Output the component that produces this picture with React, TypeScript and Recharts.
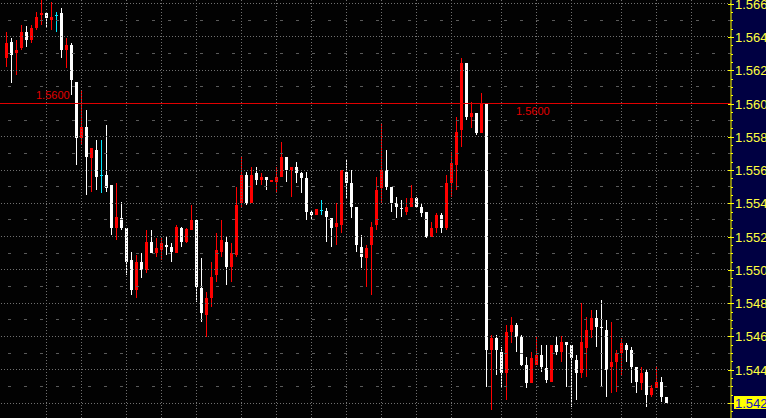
import React from 'react';
import { ComposedChart, Bar, XAxis, YAxis, ReferenceLine, ReferenceDot } from 'recharts';

const opens = [
  1.56275, 1.56370, 1.56302, 1.56335, 1.56430, 1.56382, 1.56454, 1.56530, 1.56546, 1.56502,
  1.56530, 1.56546, 1.56322, 1.56353, 1.56131, 1.55794, 1.55861, 1.55674, 1.55721, 1.55570,
  1.55572, 1.55510, 1.55254, 1.55310, 1.55252, 1.55059, 1.54879, 1.55049, 1.54999, 1.55169,
  1.55103, 1.55120, 1.55150, 1.55139, 1.55103, 1.55254, 1.55169, 1.55240, 1.55300, 1.54889,
  1.54729, 1.54833, 1.54969, 1.55109, 1.55169, 1.55019, 1.55089, 1.55400, 1.55570, 1.55400,
  1.55580, 1.55540, 1.55560, 1.55530, 1.55530, 1.55556, 1.55680, 1.55600, 1.55620, 1.55584,
  1.55554, 1.55350, 1.55330, 1.55360, 1.55356, 1.55310, 1.55260, 1.55270, 1.55590, 1.55520,
  1.55380, 1.55139, 1.55070, 1.55150, 1.55270, 1.55490, 1.55600, 1.55500, 1.55404, 1.55374,
  1.55350, 1.55380, 1.55430, 1.55380, 1.55346, 1.55199, 1.55250, 1.55330, 1.55250, 1.55520,
  1.55630, 1.55841, 1.56242, 1.55917, 1.55945, 1.55821, 1.56001, 1.54519, 1.54589, 1.54508,
  1.54382, 1.54629, 1.54669, 1.54598, 1.54428, 1.54318, 1.54428, 1.54488, 1.54409, 1.54328,
  1.54549, 1.54508, 1.54565, 1.54549, 1.54458, 1.54382, 1.54532, 1.54639, 1.54713, 1.54659,
  1.54639, 1.54415, 1.54448, 1.54502, 1.54549, 1.54519, 1.54418, 1.54322, 1.54388, 1.54248,
  1.54292, 1.54328, 1.54238,
];

const highs = [
  1.56430, 1.56395, 1.56382, 1.56472, 1.56464, 1.56472, 1.56550, 1.56622, 1.56546, 1.56610,
  1.56550, 1.56572, 1.56395, 1.56365, 1.56131, 1.56081, 1.55961, 1.55733, 1.55781, 1.55781,
  1.55871, 1.55510, 1.55524, 1.55410, 1.55252, 1.55108, 1.55089, 1.55103, 1.55240, 1.55240,
  1.55190, 1.55196, 1.55199, 1.55163, 1.55270, 1.55260, 1.55254, 1.55390, 1.55300, 1.55070,
  1.54869, 1.55049, 1.55220, 1.55300, 1.55199, 1.55160, 1.55500, 1.55680, 1.55590, 1.55620,
  1.55620, 1.55580, 1.55560, 1.55540, 1.55620, 1.55770, 1.55680, 1.55620, 1.55650, 1.55590,
  1.55590, 1.55360, 1.55364, 1.55420, 1.55370, 1.55310, 1.55400, 1.55600, 1.55660, 1.55600,
  1.55380, 1.55210, 1.55150, 1.55290, 1.55560, 1.55881, 1.55721, 1.55500, 1.55440, 1.55420,
  1.55430, 1.55510, 1.55440, 1.55394, 1.55346, 1.55290, 1.55344, 1.55344, 1.55570, 1.55710,
  1.55921, 1.56272, 1.56242, 1.56011, 1.55945, 1.56061, 1.56001, 1.54609, 1.54609, 1.54538,
  1.54669, 1.54719, 1.54683, 1.54609, 1.54478, 1.54508, 1.54595, 1.54549, 1.54549, 1.54549,
  1.54598, 1.54604, 1.54565, 1.54549, 1.54488, 1.54799, 1.54719, 1.54759, 1.54759, 1.54819,
  1.54699, 1.54689, 1.54519, 1.54589, 1.54562, 1.54538, 1.54418, 1.54418, 1.54398, 1.54308,
  1.54418, 1.54358, 1.54238,
];

const lows = [
  1.56221, 1.56125, 1.56171, 1.56322, 1.56341, 1.56365, 1.56442, 1.56472, 1.56454, 1.56442,
  1.56430, 1.56275, 1.56215, 1.56051, 1.55630, 1.55751, 1.55450, 1.55470, 1.55480, 1.55464,
  1.55470, 1.55210, 1.55180, 1.55240, 1.54969, 1.54849, 1.54833, 1.54949, 1.54980, 1.55100,
  1.55079, 1.55059, 1.55089, 1.55049, 1.55100, 1.55139, 1.55163, 1.55240, 1.54809, 1.54689,
  1.54598, 1.54779, 1.54929, 1.55079, 1.54909, 1.54929, 1.55079, 1.55380, 1.55390, 1.55400,
  1.55510, 1.55510, 1.55480, 1.55530, 1.55470, 1.55556, 1.55530, 1.55440, 1.55524, 1.55460,
  1.55300, 1.55300, 1.55330, 1.55330, 1.55169, 1.55139, 1.55150, 1.55224, 1.55430, 1.55310,
  1.55109, 1.55010, 1.54899, 1.54849, 1.55240, 1.55400, 1.55480, 1.55350, 1.55310, 1.55320,
  1.55330, 1.55380, 1.55370, 1.55320, 1.55193, 1.55199, 1.55224, 1.55224, 1.55240, 1.55440,
  1.55480, 1.55740, 1.55901, 1.55851, 1.55811, 1.55821, 1.54298, 1.54158, 1.54368, 1.54298,
  1.54218, 1.54562, 1.54508, 1.54422, 1.54288, 1.54318, 1.54428, 1.54388, 1.54318, 1.54328,
  1.54488, 1.54448, 1.54298, 1.54178, 1.54218, 1.54348, 1.54358, 1.54589, 1.54538, 1.54298,
  1.54238, 1.54258, 1.54268, 1.54368, 1.54448, 1.54322, 1.54258, 1.54278, 1.54178, 1.54238,
  1.54288, 1.54208, 1.54198,
];

const closes = [
  1.56365, 1.56291, 1.56323, 1.56430, 1.56382, 1.56454, 1.56520, 1.56546, 1.56516, 1.56520,
  1.56530, 1.56322, 1.56353, 1.56141, 1.55794, 1.55861, 1.55680, 1.55733, 1.55560, 1.55570,
  1.55494, 1.55254, 1.55320, 1.55254, 1.55049, 1.54879, 1.55049, 1.54999, 1.55169, 1.55103,
  1.55133, 1.55163, 1.55139, 1.55109, 1.55260, 1.55169, 1.55244, 1.55300, 1.54899, 1.54739,
  1.54833, 1.54959, 1.55120, 1.55180, 1.55019, 1.55100, 1.55390, 1.55570, 1.55400, 1.55570,
  1.55540, 1.55560, 1.55540, 1.55540, 1.55560, 1.55680, 1.55600, 1.55620, 1.55584, 1.55554,
  1.55350, 1.55330, 1.55364, 1.55360, 1.55316, 1.55250, 1.55284, 1.55600, 1.55520, 1.55380,
  1.55150, 1.55079, 1.55130, 1.55260, 1.55480, 1.55600, 1.55500, 1.55400, 1.55380, 1.55364,
  1.55380, 1.55430, 1.55380, 1.55344, 1.55199, 1.55250, 1.55330, 1.55250, 1.55520, 1.55641,
  1.55831, 1.56242, 1.55921, 1.55945, 1.55821, 1.56001, 1.54519, 1.54589, 1.54519, 1.54382,
  1.54629, 1.54669, 1.54598, 1.54428, 1.54318, 1.54469, 1.54488, 1.54418, 1.54338, 1.54549,
  1.54508, 1.54565, 1.54549, 1.54469, 1.54382, 1.54568, 1.54639, 1.54713, 1.54659, 1.54655,
  1.54398, 1.54448, 1.54502, 1.54562, 1.54519, 1.54418, 1.54328, 1.54382, 1.54248, 1.54292,
  1.54328, 1.54238, 1.54202,
];

// price axis labels and grid levels
const priceTicks = [1.542, 1.544, 1.546, 1.548, 1.550, 1.552, 1.554, 1.556, 1.558, 1.560, 1.562, 1.564, 1.566];
const midLevels = [1.543, 1.545, 1.547, 1.549, 1.551, 1.553, 1.555, 1.557, 1.559, 1.561, 1.563, 1.565];
const minorTicks = [
  1.5415, 1.5425, 1.543, 1.5435, 1.5445, 1.545, 1.5455, 1.5465, 1.547, 1.5475, 1.5485, 1.549, 1.5495,
  1.5505, 1.551, 1.5515, 1.5525, 1.553, 1.5535, 1.5545, 1.555, 1.5555, 1.5565, 1.557, 1.5575,
  1.5585, 1.559, 1.5595, 1.5605, 1.561, 1.5615, 1.5625, 1.563, 1.5635, 1.5645, 1.565, 1.5655,
];
// time grid (candle slot index of each vertical grid line)
const timeGridSlots = [8, 15, 24, 31, 38, 47, 54, 61, 68, 75, 82, 89, 99, 106, 113, 123, 130, 137];
const totalSlots = 145;
// horizontal marker level and candles where its labels sit
const markerLevel = 1.56;
const markerLabelSlots = [6, 102];

const W = 766;
const H = 418;
const AXIS_W = 35;
const TICK_SIZE = 3;
const TICK_MARGIN = 1;
const FONT = '"Liberation Sans", Arial, Helvetica, sans-serif';
const lastClose = closes[closes.length - 1];

const data = Array.from({ length: totalSlots }, (_, i) =>
  i < opens.length
    ? { i, o: opens[i], h: highs[i], l: lows[i], c: closes[i] }
    : { i, o: null, h: null, l: null, c: null }
);

const allTicks = [...priceTicks, ...minorTicks].sort((a, b) => a - b);
const isMajor = (v: number) => priceTicks.some((t) => Math.abs(t - v) < 1e-7);

const Candle = (props: any) => {
  const { x, y, width, height, payload } = props;
  if (!payload || payload.h == null) return null;
  const { o, h, l, c } = payload;
  const yTop = Math.min(y, y + height);
  const hh = Math.abs(height);
  const range = h - l;
  const px = (v: number) => yTop + (range === 0 ? 0 : ((h - v) / range) * hh);
  const cx = Math.floor(x + width / 2);
  const color = c > o ? '#ff0000' : c < o ? '#ffffff' : '#00e8ff';
  const wTop = Math.round(yTop);
  const wBot = Math.round(yTop + hh);
  const bTop = Math.round(px(Math.max(o, c)));
  const bBot = Math.round(px(Math.min(o, c)));
  return (
    <g shapeRendering="crispEdges">
      <rect x={cx} y={wTop} width={1} height={Math.max(1, wBot - wTop)} fill={color} />
      <rect x={cx - 1} y={bTop} width={3} height={Math.max(1, bBot - bTop)} fill={color} />
    </g>
  );
};

const PriceTick = (props: any) => {
  const { x, y, payload } = props;
  const v = payload.value;
  const axisX = x - TICK_SIZE - TICK_MARGIN;
  const yy = Math.round(y) + 0.5;
  const major = isMajor(v);
  const highlight = major && Math.abs(v - lastClose) < 0.0001;
  return (
    <g>
      <line x1={major ? axisX - 3 : axisX} x2={axisX + (major ? 3 : 2)} y1={yy} y2={yy} stroke="#ffff00" strokeWidth={1} />
      {major && highlight && (
        <rect x={axisX + 3} y={Math.round(y) - 7} width={AXIS_W - 3} height={13} fill="#ffff00" />
      )}
      {major && (
        <text
          x={x}
          y={y + 5}
          fill={highlight ? '#1010c0' : '#ffff40'}
          fontSize={13}
          fontFamily={FONT}
          textAnchor="start"
        >
          {v.toFixed(4)}
        </text>
      )}
    </g>
  );
};

const MarkerLabel = (above: boolean) => (props: any) => {
  const vb = props.viewBox || {};
  const lx = vb.x + (vb.width || 0) / 2 - 0.5;
  const ly = vb.y + (vb.height || 0) / 2;
  return (
    <text x={lx} y={above ? ly - 5 : ly + 11} fill="#e00000" fontSize={11} fontFamily={FONT} textAnchor="start">
      {markerLevel.toFixed(4)}
    </text>
  );
};

export default function App() {
  return (
    <div style={{ position: 'absolute', left: 0, top: 0, width: W, height: H, background: '#020202', overflow: 'hidden' }}>
      <div style={{ position: 'absolute', left: W - AXIS_W, top: 0, width: AXIS_W, height: H, background: '#000042' }} />
      <div style={{ position: 'absolute', left: 0, top: 0 }}>
        <ComposedChart width={W} height={H} data={data} margin={{ top: 0, right: 0, bottom: 0, left: 0 }}>
          <XAxis dataKey="i" type="category" hide padding={{ left: 4, right: 2 }} />
          <YAxis
            yAxisId="left"
            orientation="left"
            mirror
            width={0}
            type="number"
            domain={[1.5411, 1.56622]}
            allowDataOverflow
            ticks={midLevels.concat(priceTicks)}
            interval={0}
            tick={false}
            tickSize={3}
            axisLine={false}
            tickLine={{ stroke: '#ffffff' }}
          />
          <YAxis
            orientation="right"
            width={AXIS_W}
            type="number"
            domain={[1.5411, 1.56622]}
            allowDataOverflow
            ticks={allTicks}
            interval={0}
            tickSize={TICK_SIZE}
            tickMargin={TICK_MARGIN}
            axisLine={{ stroke: '#ffff00' }}
            tickLine={false}
            tick={<PriceTick />}
          />
          {priceTicks.map((p) => (
            <ReferenceLine key={'g' + p} y={p} stroke="#707070" strokeDasharray="1 2" shapeRendering="crispEdges" />
          ))}
          {midLevels.map((p) => (
            <ReferenceLine key={'m' + p} y={p} stroke="#5a5a5a" strokeDasharray="3 13" shapeRendering="crispEdges" />
          ))}
          {timeGridSlots.map((s) => (
            <ReferenceLine key={'v' + s} x={s} stroke="#707070" strokeDasharray="1 2" shapeRendering="crispEdges" />
          ))}
          <ReferenceLine y={markerLevel} stroke="#e00000" strokeWidth={1} shapeRendering="crispEdges" />
          <Bar
            dataKey={(d: any) => (d.h == null ? null : [d.l, d.h])}
            barSize={3}
            shape={<Candle />}
            isAnimationActive={false}
          />
          {markerLabelSlots.map((s, idx) => (
            <ReferenceDot
              key={'lbl' + s}
              x={s}
              y={markerLevel}
              r={1}
              fill="none"
              stroke="none"
              label={MarkerLabel(idx === 0)}
            />
          ))}
        </ComposedChart>
      </div>
    </div>
  );
}
